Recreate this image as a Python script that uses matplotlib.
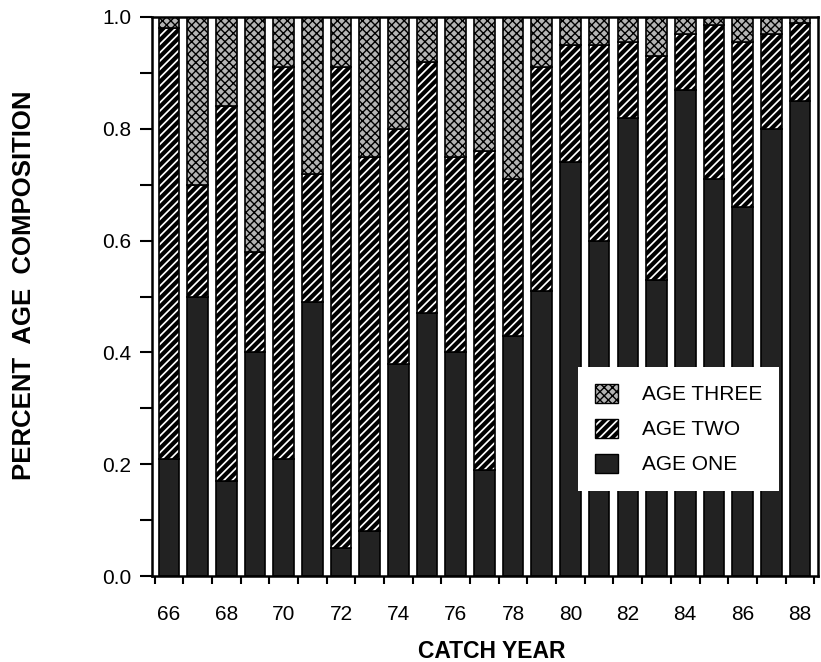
import matplotlib
matplotlib.use("Agg")
import matplotlib.pyplot as plt
from matplotlib.patches import Patch
from matplotlib.ticker import FixedLocator
import numpy as np

years = list(range(66, 89))
age_one = [0.21, 0.50, 0.17, 0.40, 0.21, 0.49, 0.05, 0.08, 0.38, 0.47, 0.40, 0.19,
           0.43, 0.51, 0.74, 0.60, 0.82, 0.53, 0.87, 0.71, 0.66, 0.80, 0.85]
age_two = [0.77, 0.20, 0.67, 0.18, 0.70, 0.23, 0.86, 0.67, 0.42, 0.45, 0.35, 0.57,
           0.28, 0.40, 0.21, 0.35, 0.135, 0.40, 0.10, 0.275, 0.295, 0.17, 0.14]
age_three = [0.02, 0.30, 0.16, 0.42, 0.09, 0.28, 0.09, 0.25, 0.20, 0.08, 0.25, 0.24,
             0.29, 0.09, 0.05, 0.05, 0.045, 0.07, 0.03, 0.015, 0.045, 0.03, 0.01]
series_labels = ["AGE THREE", "AGE TWO", "AGE ONE"]

plt.rcParams['font.family'] = ['Liberation Sans', 'DejaVu Sans']

fig = plt.figure(figsize=(8.21, 6.62), dpi=100)
ax = fig.add_axes([152/821, 1-576/662, (818-152)/821, (576-17)/662])

x = np.array(years)
a1 = np.array(age_one)
a2 = np.array(age_two)
a3 = np.array(age_three)
w = 0.72
dark = '#222222'
check_col = '#b4b4b4'

with plt.rc_context({'hatch.linewidth': 3.0}):
    b1 = ax.bar(x, a1, w, color=dark, edgecolor='black', linewidth=1.2)
    b2 = ax.bar(x, a2, w, bottom=a1, color='white', edgecolor='black', hatch='////', linewidth=1.2)
with plt.rc_context({'hatch.linewidth': 1.0}):
    b3 = ax.bar(x, a3, w, bottom=a1 + a2, color=check_col, edgecolor='black', hatch='xxxx', linewidth=1.2)
h_three = Patch(facecolor=check_col, edgecolor='black', hatch='xxxx')
h_two = Patch(facecolor='white', edgecolor='black', hatch='////')
h_one = Patch(facecolor=dark, edgecolor='black')

ax.set_xlim(65.41, 88.63)
ax.set_ylim(0, 1.0)

ax.xaxis.set_major_locator(FixedLocator(years[::2]))
ax.set_xticklabels([str(y) for y in years[::2]])
ax.xaxis.set_minor_locator(FixedLocator([y + 0.5 for y in range(65, 89)]))
ax.tick_params(axis='x', which='major', length=0, pad=21, labelsize=15)
ax.tick_params(axis='x', which='minor', length=6, width=1.5, direction='out')
yt = np.round(np.arange(0, 1.01, 0.2), 1)
ax.yaxis.set_major_locator(FixedLocator(yt))
ax.set_yticklabels([f"{v:.1f}" for v in yt])
ax.yaxis.set_minor_locator(FixedLocator(np.round(np.arange(0.1, 1.0, 0.2), 1)))
ax.tick_params(axis='y', which='both', length=9, width=1.5, direction='out', labelsize=15, pad=6)

for s in ax.spines.values():
    s.set_linewidth(1.8)

fig.text(24/821, 1-285/662, "PERCENT  AGE  COMPOSITION", rotation=90, ha='center', va='center',
         fontsize=18.5, fontweight='bold')
fig.text(492/821, 1-651/662, "CATCH YEAR", ha='center', va='center', fontsize=16.5, fontweight='bold')

leg = ax.legend([h_three, h_two, h_one], series_labels, loc='upper left',
                bbox_to_anchor=(578/821, 1-367/662), bbox_transform=fig.transFigure,
                frameon=True, fancybox=False, framealpha=1, edgecolor='white',
                prop={'size': 15},
                handlelength=1.1, handleheight=1.05, handletextpad=1.15,
                labelspacing=0.68, borderpad=0.8, borderaxespad=0)
leg.get_frame().set_linewidth(0)
lp = leg.get_patches()
if hasattr(lp[1], 'set_hatch_linewidth'):
    lp[0].set_hatch_linewidth(1.0)
    lp[1].set_hatch_linewidth(3.0)

fig.savefig("out.png", dpi=100)
